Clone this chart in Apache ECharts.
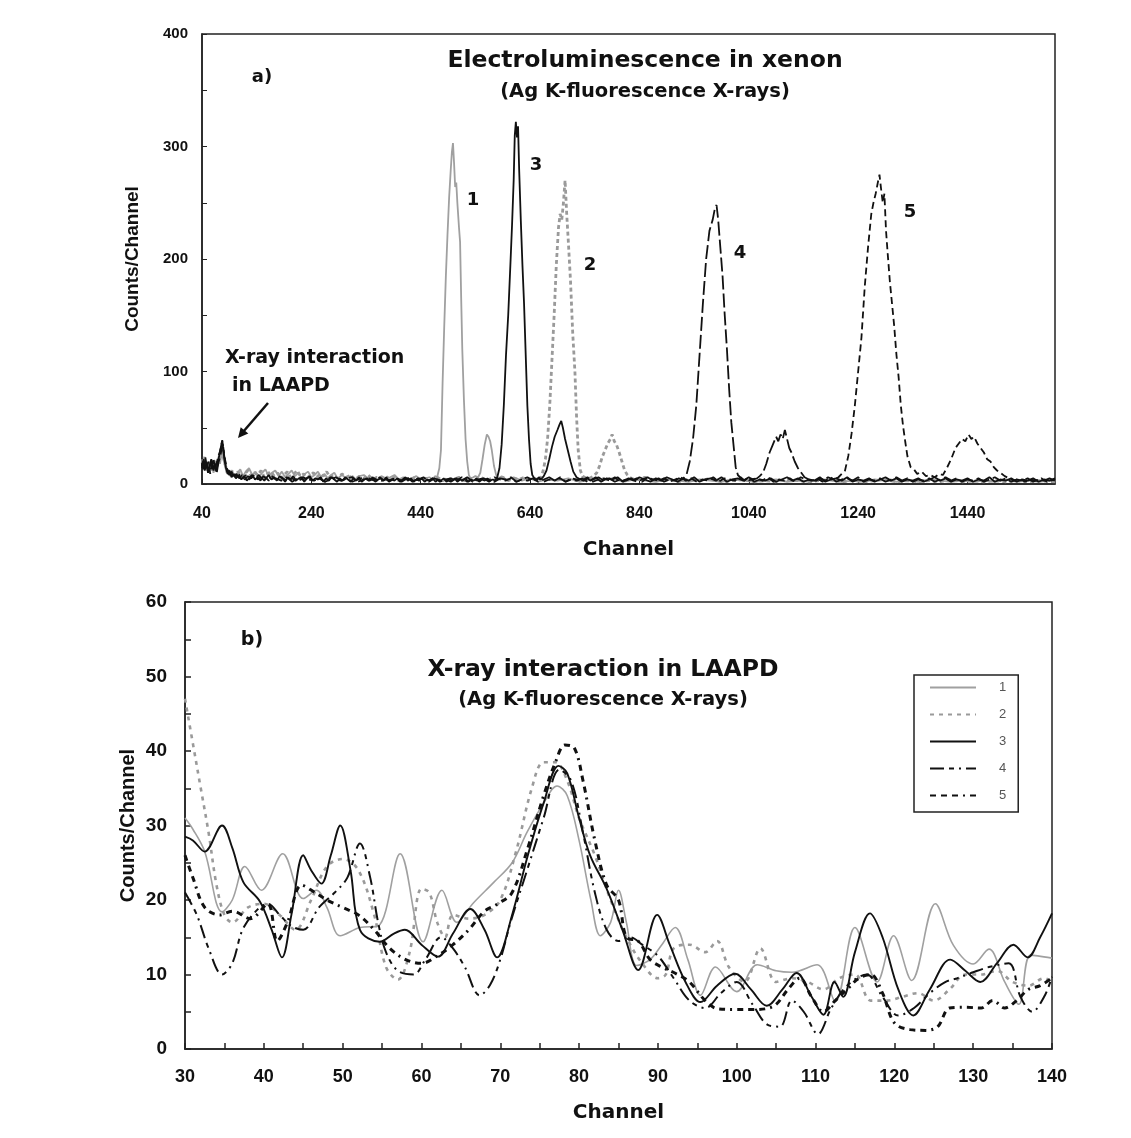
<!DOCTYPE html>
<html><head><meta charset="utf-8">
<script src="https://cdn.jsdelivr.net/npm/echarts/dist/echarts.min.js"></script>
<style>html,body{margin:0;padding:0;background:#fff}#c{width:1131px;height:1138px}</style>
</head><body><div id="c"></div>
<script>
// ---------- Panel a) : spectra, [channel, counts] ----------
const a1 = [[40,22],[43,15],[46,20],[49,12],[52,18],[55,14],[58,20],[61,10],[64,16],[67,13],[70,22],[73,18],[76,28],[79,22],[82,16],[85,10],[88,13],[92,7],[96,11],[100,6],[105,10],[110,13],[115,7],[120,11],[126,14],[132,8],[138,11],[144,6],[150,10],[156,13],[162,7],[168,10],[174,12],[180,7],[186,11],[192,6],[198,9],[204,12],[210,7],[216,10],[222,5],[228,9],[234,11],[240,6],[246,8],[252,11],[258,6],[264,9],[270,5],[276,8],[282,10],[288,5],[296,8],[304,5],[312,7],[320,4],[328,7],[336,8],[344,5],[352,6],[360,3],[368,7],[376,5],[384,6],[392,8],[400,4],[408,6],[416,3],[424,5],[432,7],[440,4],[448,5],[456,6],[462,4],[466,7],[470,6],[474,14],[477,30],[480,90],[483,140],[486,185],[489,222],[492,255],[495,280],[497,295],[499,303],[501,285],[503,264],[505,268],[507,250],[510,228],[512,215],[514,165],[516,120],[519,75],[522,40],[525,20],[528,8],[531,5],[536,6],[540,7],[545,6],[549,10],[553,22],[557,35],[561,44],[564,42],[567,38],[570,30],[574,16],[578,8],[582,5],[588,7],[596,4],[610,6],[625,3],[640,5],[655,2],[670,4],[690,3],[710,5],[730,2],[750,4],[770,3],[790,5],[810,2],[830,4],[850,3],[870,2],[890,4],[910,3],[930,2],[950,4],[970,3],[990,2],[1010,4],[1030,3],[1050,2],[1070,3],[1090,4],[1110,2],[1130,3],[1150,2],[1170,4],[1190,3],[1210,2],[1230,3],[1250,2],[1270,4],[1290,3],[1310,2],[1330,3],[1350,2],[1370,4],[1390,3],[1410,2],[1430,3],[1450,2],[1470,3],[1490,2],[1510,4],[1530,2],[1550,3],[1570,2],[1590,3],[1600,2]];
const a2 = [[40,18],[44,24],[48,14],[52,20],[56,12],[60,17],[64,22],[68,15],[72,26],[76,32],[79,26],[82,18],[86,11],[90,8],[95,12],[100,7],[106,11],[112,6],[118,9],[124,12],[130,7],[136,10],[142,8],[148,12],[154,6],[160,9],[166,11],[172,7],[178,10],[184,5],[190,8],[196,11],[202,6],[208,9],[214,12],[220,7],[226,9],[232,5],[238,8],[244,10],[250,6],[256,9],[262,7],[268,11],[274,6],[280,8],[288,5],[296,9],[304,6],[312,8],[320,4],[328,7],[336,5],[344,8],[352,4],[360,6],[368,5],[376,7],[384,4],[392,6],[400,3],[410,5],[420,4],[430,6],[440,3],[450,5],[460,4],[470,6],[480,3],[490,5],[500,4],[510,6],[520,3],[530,5],[540,4],[550,6],[560,3],[570,5],[580,4],[590,6],[600,3],[610,5],[620,4],[630,6],[640,3],[648,5],[655,4],[660,6],[664,12],[668,22],[672,40],[676,70],[680,110],[684,150],[688,195],[692,228],[695,240],[698,235],[701,250],[704,270],[707,240],[710,215],[714,180],[718,134],[722,100],[725,60],[728,30],[732,12],[736,7],[740,6],[748,5],[756,7],[762,10],[767,16],[772,24],[777,30],[782,36],[787,40],[790,44],[794,38],[798,35],[803,28],[808,20],[813,12],[818,8],[825,5],[835,4],[850,6],[870,3],[890,5],[910,2],[930,4],[950,3],[970,5],[990,2],[1010,3],[1030,4],[1050,2],[1070,3],[1090,2],[1110,4],[1130,3],[1150,2],[1170,3],[1190,4],[1210,2],[1230,3],[1250,2],[1270,3],[1290,4],[1310,2],[1330,3],[1350,2],[1370,3],[1390,2],[1410,4],[1430,2],[1450,3],[1470,2],[1490,3],[1510,2],[1530,3],[1550,2],[1570,3],[1600,2]];
const a3 = [[40,14],[42,20],[45,12],[48,18],[51,10],[54,16],[57,22],[60,13],[63,17],[66,11],[69,20],[72,26],[75,34],[77,38],[79,30],[81,22],[84,14],[87,9],[90,12],[94,6],[98,9],[102,5],[107,8],[112,4],[117,7],[122,3],[127,6],[132,8],[137,4],[142,6],[147,3],[152,7],[157,5],[162,8],[167,4],[172,6],[177,3],[182,7],[187,5],[192,2],[197,6],[202,4],[207,7],[212,3],[217,5],[222,6],[227,2],[232,5],[237,7],[242,3],[247,5],[252,4],[257,6],[262,2],[267,5],[272,3],[277,6],[282,4],[287,2],[292,5],[297,3],[302,6],[307,4],[312,2],[317,5],[322,3],[327,6],[332,2],[337,4],[342,5],[347,3],[352,6],[357,2],[362,4],[367,5],[372,3],[377,6],[382,2],[387,4],[392,3],[397,5],[402,2],[407,4],[412,6],[417,3],[422,5],[427,2],[432,4],[437,3],[442,5],[447,2],[452,4],[457,3],[462,5],[467,2],[472,4],[477,3],[482,5],[487,2],[492,4],[497,3],[502,5],[507,2],[512,4],[517,3],[522,5],[527,2],[532,4],[537,3],[542,5],[547,2],[552,4],[557,3],[562,5],[567,3],[572,4],[576,3],[580,6],[584,14],[588,35],[592,70],[596,115],[600,150],[604,195],[607,230],[610,270],[612,310],[614,322],[616,308],[618,318],[620,280],[623,235],[626,195],[629,160],[632,115],[635,70],[638,40],[641,18],[644,8],[648,5],[652,3],[656,6],[660,4],[665,7],[670,12],[675,22],[680,33],[685,42],[690,48],[694,53],[697,56],[700,50],[704,40],[709,30],[714,20],[719,11],[725,6],[732,4],[738,3],[745,5],[750,3],[760,6],[770,2],[780,5],[790,4],[800,6],[810,2],[820,5],[830,3],[840,6],[850,4],[860,2],[870,5],[880,3],[890,6],[900,4],[910,2],[920,5],[930,3],[940,6],[950,2],[960,4],[970,5],[980,3],[990,6],[1000,2],[1010,4],[1020,5],[1030,3],[1040,6],[1050,2],[1060,4],[1070,3],[1080,5],[1090,2],[1100,4],[1110,6],[1120,3],[1130,5],[1140,2],[1150,4],[1160,3],[1170,6],[1180,2],[1190,4],[1200,5],[1210,3],[1220,6],[1230,2],[1240,4],[1250,3],[1260,5],[1270,2],[1280,4],[1290,6],[1300,3],[1310,5],[1320,2],[1330,4],[1340,3],[1350,5],[1360,2],[1370,4],[1380,6],[1390,3],[1400,5],[1410,2],[1420,4],[1430,3],[1440,5],[1450,2],[1460,4],[1470,3],[1480,6],[1490,2],[1500,4],[1510,3],[1520,5],[1530,2],[1540,4],[1550,3],[1560,5],[1570,2],[1580,4],[1590,3],[1600,5]];
const a4 = [[40,16],[43,22],[46,13],[49,19],[52,11],[55,17],[58,21],[61,12],[64,18],[67,10],[70,19],[73,24],[76,31],[78,36],[80,27],[83,18],[86,12],[90,8],[94,11],[98,6],[103,9],[108,5],[113,8],[118,4],[124,7],[130,5],[136,8],[142,4],[148,6],[154,3],[160,7],[166,5],[175,5],[185,3],[195,6],[205,2],[215,5],[225,4],[235,6],[245,3],[255,5],[265,2],[275,4],[285,6],[295,3],[305,5],[315,2],[325,4],[335,6],[345,3],[355,5],[365,2],[375,4],[385,3],[395,6],[405,2],[415,5],[425,3],[435,4],[445,6],[455,2],[465,5],[475,3],[485,4],[495,2],[505,5],[515,3],[525,6],[535,2],[545,4],[555,5],[565,3],[575,2],[585,5],[595,4],[605,6],[615,2],[625,4],[635,3],[645,5],[655,2],[665,4],[675,6],[685,3],[695,5],[705,2],[715,4],[725,3],[735,5],[745,2],[755,4],[765,6],[775,3],[785,5],[795,2],[805,4],[815,3],[825,5],[835,2],[845,4],[855,6],[865,3],[875,5],[885,2],[895,4],[905,3],[912,5],[918,4],[926,8],[932,20],[938,40],[944,70],[950,115],[956,160],[962,200],[968,225],[974,235],[978,245],[981,248],[984,235],[988,210],[992,185],[996,150],[1000,120],[1004,85],[1008,55],[1012,35],[1016,15],[1020,8],[1026,5],[1032,3],[1040,6],[1048,4],[1055,5],[1060,7],[1066,10],[1072,18],[1078,28],[1084,35],[1090,42],[1094,38],[1098,44],[1102,40],[1106,48],[1110,40],[1114,32],[1118,28],[1124,20],[1130,14],[1136,10],[1142,6],[1150,4],[1160,2],[1170,5],[1180,3],[1190,6],[1200,2],[1210,4],[1220,5],[1230,3],[1240,6],[1250,2],[1260,4],[1270,3],[1280,5],[1290,2],[1300,4],[1310,6],[1320,3],[1330,5],[1340,2],[1350,4],[1360,3],[1370,5],[1380,2],[1390,4],[1400,6],[1410,3],[1420,5],[1430,2],[1440,4],[1450,3],[1460,5],[1470,2],[1480,4],[1490,6],[1500,3],[1510,5],[1520,2],[1530,4],[1540,3],[1550,5],[1560,2],[1570,4],[1580,3],[1590,5],[1600,3]];
const a5 = [[40,19],[43,12],[46,24],[49,15],[52,20],[55,9],[58,16],[61,22],[64,14],[67,19],[70,25],[73,29],[75,34],[77,39],[79,32],[82,22],[85,15],[88,10],[92,13],[96,7],[100,10],[105,6],[110,9],[115,5],[120,8],[126,4],[132,7],[138,5],[144,8],[150,4],[156,6],[162,3],[168,7],[175,4],[185,6],[195,3],[205,5],[215,2],[225,6],[235,4],[245,3],[255,5],[265,2],[275,6],[285,4],[295,3],[305,5],[315,6],[325,2],[335,4],[345,5],[355,3],[365,6],[375,2],[385,4],[395,5],[405,3],[415,6],[425,2],[435,5],[445,4],[455,3],[465,6],[475,2],[485,4],[495,5],[505,3],[515,6],[525,2],[535,4],[545,3],[555,5],[565,2],[575,6],[585,4],[595,3],[605,5],[615,2],[625,4],[635,6],[645,3],[655,5],[665,2],[675,4],[685,3],[695,6],[705,2],[715,5],[725,4],[735,3],[745,6],[755,2],[765,4],[775,5],[785,3],[795,6],[805,2],[815,4],[825,3],[835,5],[845,2],[855,6],[865,4],[875,3],[885,5],[895,2],[905,4],[915,6],[925,3],[935,5],[945,2],[955,4],[965,3],[975,6],[985,2],[995,5],[1005,4],[1015,3],[1025,6],[1035,2],[1045,4],[1055,5],[1065,3],[1075,6],[1085,2],[1095,4],[1105,3],[1115,5],[1125,2],[1135,6],[1145,4],[1155,3],[1165,5],[1175,2],[1185,6],[1195,4],[1204,6],[1210,9],[1216,12],[1222,25],[1228,45],[1234,70],[1240,100],[1246,130],[1252,175],[1258,210],[1264,240],[1268,250],[1272,258],[1276,268],[1279,275],[1282,262],[1285,250],[1288,258],[1291,225],[1294,205],[1298,180],[1302,160],[1306,140],[1310,115],[1314,95],[1318,70],[1322,52],[1326,38],[1330,25],[1336,15],[1342,13],[1348,9],[1356,11],[1364,7],[1372,8],[1380,6],[1388,9],[1395,8],[1402,14],[1410,22],[1418,32],[1424,36],[1430,40],[1436,38],[1442,44],[1447,40],[1452,42],[1458,36],[1464,32],[1470,28],[1476,22],[1482,20],[1488,15],[1494,12],[1500,10],[1508,7],[1516,5],[1525,3],[1535,5],[1545,2],[1555,4],[1565,3],[1575,5],[1585,2],[1600,4]];

// ---------- Panel b) : X-ray interaction in LAAPD, [channel, counts] ----------
const b1 = [[30,31],[31,29.5],[32.5,26.5],[34.7,18.4],[36,20],[37.6,24.5],[39.7,21.3],[42.4,26.2],[45,20.2],[46.7,21.3],[48,19],[49.7,15.2],[52.2,16.3],[54.5,16.5],[57.3,26.2],[60.2,14.4],[62.6,21.3],[64.5,17],[66.5,19.5],[69.2,22.4],[71.5,25],[73.4,29.1],[75.5,33],[77.2,35.3],[78.5,34],[80,28],[81.5,20],[82.7,15.2],[84,17],[85,21.3],[86,17],[87.3,11.2],[89,12],[90.5,14],[92.2,16.3],[93.8,12],[95.4,7.2],[97.3,11],[100,7.7],[102.6,11.3],[105,10.5],[107,10.3],[110.2,11.3],[112.5,6.4],[115,16.3],[117.8,9],[119.9,15.2],[122.2,9.2],[125.2,19.5],[127.5,13.9],[130,11.4],[132,13.4],[134,9],[135.8,6],[137.3,12.6],[140,12.2]];
const b2 = [[30,47],[31,41],[32,35],[33,29],[34,22],[35,18],[36,17],[38,19],[40,19.5],[42,18],[44,16],[46,20],[48,24.5],[50,25.5],[52,24],[54,18],[55.5,11],[57,9.3],[58.5,13],[60,21.5],[61,21],[62,17],[63,15],[64,18],[66,17.5],[68,18],[70,20],[72,26.5],[74,35],[75.5,38.5],[77,38.5],[78.5,36],[80,31],[82,26],[84,20],[86,15],[88,11.5],[90,9.5],[91,10],[92,13.5],[94,14],[96,13],[97.5,14.5],[99,11],[101,9],[103,13.5],[105,9],[107,9.5],[109,9],[111,8],[113,9.5],[115,10],[117,6.5],[119,6.5],[121,7],[123,7.5],[125,6.5],[127,8],[129,10],[131,10],[133,10.5],[135,9],[137,8.5],[139,9.5],[140,9]];
const b3 = [[30,28.5],[31,28],[32.5,26.5],[34.7,30],[36,27],[37.4,22.4],[39.5,19.8],[41,16],[42.3,12.3],[43.5,18],[45,26],[46,24],[47.3,22.2],[48.5,26],[49.7,30],[51,24],[52.2,16],[54.7,14.4],[56.5,15.5],[57.9,16],[60,14],[62.1,12.4],[64,15.5],[66.2,18.8],[68,16],[69.6,12.3],[71.5,18],[73.5,26],[75.5,33],[77.4,38],[78.5,37],[80,31],[81.4,26],[83.5,21.5],[85.5,16],[87.5,10.6],[89.9,18],[91.5,14],[93.5,9],[95.4,6.3],[97.5,8.5],[99.8,10.1],[101.8,8],[103.8,5.8],[105.8,8],[107.6,10.2],[109.5,7],[111,4.6],[112.4,9],[113.5,7],[115,13],[116.9,18.2],[118.5,15],[120.5,8],[122.4,4.5],[124.5,8],[127.1,12],[129,10.5],[130.9,9],[133,11.5],[135.1,14],[136.9,12.3],[138.5,15],[140,18.2]];
const b4 = [[30,21],[31.5,18],[33,13.5],[34.7,10],[36,11.5],[37.3,16],[39,18.5],[40.5,19.5],[42,18],[43.5,16.5],[45,16],[47,19],[49,21],[50.6,23],[52.2,27.6],[53.5,23],[54.5,17],[55.5,13],[57,10.5],[59,10],[60.5,12],[62.5,15],[64,13.5],[65.5,11],[67.4,7.2],[68.7,8.6],[70,12],[71.3,17],[73.4,24],[75.5,31],[77.5,37.5],[79,36],[80.5,29],[82,21],[83.5,16],[85,14.5],[86.5,15],[88,14],[90,12.5],[92,9.5],[94,6.5],[96,5.5],[98,7.5],[100,9],[102,6],[104,3.2],[105.5,3],[107,6.5],[108.5,5],[110.3,2],[112,5.5],[114,8.5],[116.5,10],[118.5,7],[120.5,4.5],[122.5,5.5],[124.5,7.5],[126.5,9],[128,9.5],[130,10.3],[132,11],[134.5,11.5],[136,7],[137.5,5],[139,7],[140,9.7]];
const b5 = [[30,26],[31,23],[32.5,19],[34.4,18],[36,18.5],[38.3,17.5],[40.5,19.5],[41.7,14.5],[43,17],[44.8,22],[46.5,21],[48,20],[50,19],[52,18],[54,16],[56,13.5],[58,12],[60,11.5],[62,12.5],[64,14],[66,16],[68,18.5],[69.7,19.5],[71.5,21],[73.5,27],[75.5,34],[77,38.5],[78.2,40.8],[79.4,40.4],[80.5,36],[82,28],[83.5,22],[85,20],[86,15],[87.5,14.5],[89,12],[90.5,11],[92.5,10],[94,9],[96,6.5],[97.6,5.4],[100,5.3],[102,5.3],[103.7,5.4],[105,6],[106.5,8],[108,9.5],[109.5,7],[111,5],[112.5,6.5],[114,8],[115.5,9.5],[117,10],[118.5,7.5],[120,3.5],[122,2.6],[124,2.5],[125.5,3],[127,5.5],[129,5.6],[131,5.5],[132.5,6.5],[134,5.5],[135.5,6.5],[137,8],[138.5,8.5],[140,9.5]];

const legendNames = ['1','2','3','4','5'];

const FONT = '"Liberation Sans", Arial, sans-serif';
const WIDE = '"DejaVu Sans", Verdana, sans-serif';
const chart = echarts.init(document.getElementById('c'), null, {renderer:'canvas'});

function sA(name, data, ls, z){ return {name, type:'line', xAxisIndex:0, yAxisIndex:0, data, symbol:'none', showSymbol:false, lineStyle:ls, z, silent:true}; }
function sB(name, data, ls, z){ return {name, type:'line', xAxisIndex:1, yAxisIndex:1, data, symbol:'none', showSymbol:false, smooth:0.35, lineStyle:ls, itemStyle:{color:ls.color}, z, silent:true}; }

const axisText = (size, fam) => ({color:'#111', fontWeight:'bold', fontSize:size, fontFamily:fam || FONT});
const txt = (x, y, text, size, align) => ({type:'text', x, y, z:50, style:{text, font:'bold '+size+'px '+WIDE, fill:'#111', align:align||'center', verticalAlign:'middle'}});

const option = {
  animation:false,
  backgroundColor:'#fff',
  grid:[
    {left:202, top:34, width:853, height:450, show:true, borderColor:'#222', borderWidth:1.5, backgroundColor:'transparent'},
    {left:185, top:602, width:867, height:447, show:true, borderColor:'#222', borderWidth:1.5, backgroundColor:'transparent'}
  ],
  xAxis:[
    {type:'value', gridIndex:0, min:40, max:1600, interval:200,
     axisLine:{show:true, lineStyle:{color:'#222', width:1.5}},
     axisTick:{show:true, inside:true, length:5, lineStyle:{color:'#222'}},
     splitLine:{show:false},
     axisLabel:{...axisText(16), margin:22, showMaxLabel:false, formatter:v=>String(v)},
     name:'Channel', nameLocation:'middle', nameGap:56, nameTextStyle:axisText(20, WIDE)},
    {type:'value', gridIndex:1, min:30, max:140, interval:10,
     axisLine:{show:true, lineStyle:{color:'#222', width:1.5}},
     axisTick:{show:true, inside:true, length:6, lineStyle:{color:'#222', width:1.5}},
     minorTick:{show:true, splitNumber:2, length:6, lineStyle:{color:'#222', width:1.5}},
     splitLine:{show:false},
     axisLabel:{...axisText(18), margin:19},
     name:'Channel', nameLocation:'middle', nameGap:54, nameTextStyle:axisText(20, WIDE)}
  ],
  yAxis:[
    {type:'value', gridIndex:0, min:0, max:400, interval:100,
     axisLine:{show:true, lineStyle:{color:'#222', width:1.5}},
     axisTick:{show:true, inside:true, length:5, lineStyle:{color:'#222'}},
     minorTick:{show:true, splitNumber:2, length:5, lineStyle:{color:'#222'}},
     splitLine:{show:false},
     axisLabel:{...axisText(15), margin:14},
     name:'Counts/Channel', nameLocation:'middle', nameGap:60, nameRotate:90, nameMoveOverlap:false, nameTextStyle:axisText(19)},
    {type:'value', gridIndex:1, min:0, max:60, interval:10,
     axisLine:{show:true, lineStyle:{color:'#222', width:1.5}},
     axisTick:{show:true, inside:true, length:6, lineStyle:{color:'#222', width:1.5}},
     minorTick:{show:true, splitNumber:2, length:6, lineStyle:{color:'#222', width:1.5}},
     splitLine:{show:false},
     axisLabel:{...axisText(19), margin:18},
     name:'Counts/Channel', nameLocation:'middle', nameGap:47, nameRotate:90, nameMoveOverlap:false, nameTextStyle:axisText(20)}
  ],
  legend:{
    data:legendNames, orient:'vertical', left:914, top:675,
    itemWidth:46, itemHeight:14, itemGap:14,
    padding:[6,12,10,15], borderColor:'#222', borderWidth:1.5, backgroundColor:'#fff',
    selectedMode:false,
    itemStyle:{opacity:0},
    textStyle:{color:'#555', fontSize:13, fontFamily:FONT, padding:[0,0,0,18]}
  },
  series:[
    sA('a1', a1, {color:'#a0a0a0', width:1.8}, 2),
    sA('a2', a2, {color:'#9a9a9a', width:2.8, type:[4,3]}, 3),
    sA('a3', a3, {color:'#111', width:1.8}, 4),
    sA('a4', a4, {color:'#111', width:1.8, type:[14,4]}, 5),
    sA('a5', a5, {color:'#111', width:1.8, type:[7,4]}, 6),
    sB('1', b1, {color:'#a0a0a0', width:1.6}, 2),
    sB('2', b2, {color:'#9a9a9a', width:2.6, type:[4,5]}, 3),
    sB('3', b3, {color:'#111', width:1.9}, 4),
    sB('4', b4, {color:'#111', width:2, type:[14,5,5,5,2,5]}, 5),
    sB('5', b5, {color:'#111', width:3, type:[6,5,6,5,6,5,2,5]}, 6)
  ],
  graphic:[
    txt(645, 61, 'Electroluminescence in xenon', 23.5),
    txt(645, 92, '(Ag K-fluorescence X-rays)', 19.5),
    txt(262, 77, 'a)', 18),
    txt(473, 200, '1', 18), txt(536, 165, '3', 18), txt(590, 265, '2', 18),
    txt(740, 253, '4', 18), txt(910, 212, '5', 18),
    txt(225, 358, 'X-ray interaction', 19, 'left'),
    txt(232, 386, 'in LAAPD', 19, 'left'),
    {type:'line', shape:{x1:268, y1:403, x2:243, y2:432}, style:{stroke:'#111', lineWidth:2.5}},
    {type:'polygon', shape:{points:[[238,438],[248.3,433.6],[240.7,427.2]]}, style:{fill:'#111'}},
    txt(603, 670, 'X-ray interaction in LAAPD', 23.5),
    txt(603, 700, '(Ag K-fluorescence X-rays)', 19.5),
    txt(252, 640, 'b)', 19)
  ]
};
chart.setOption(option);
</script></body></html>
